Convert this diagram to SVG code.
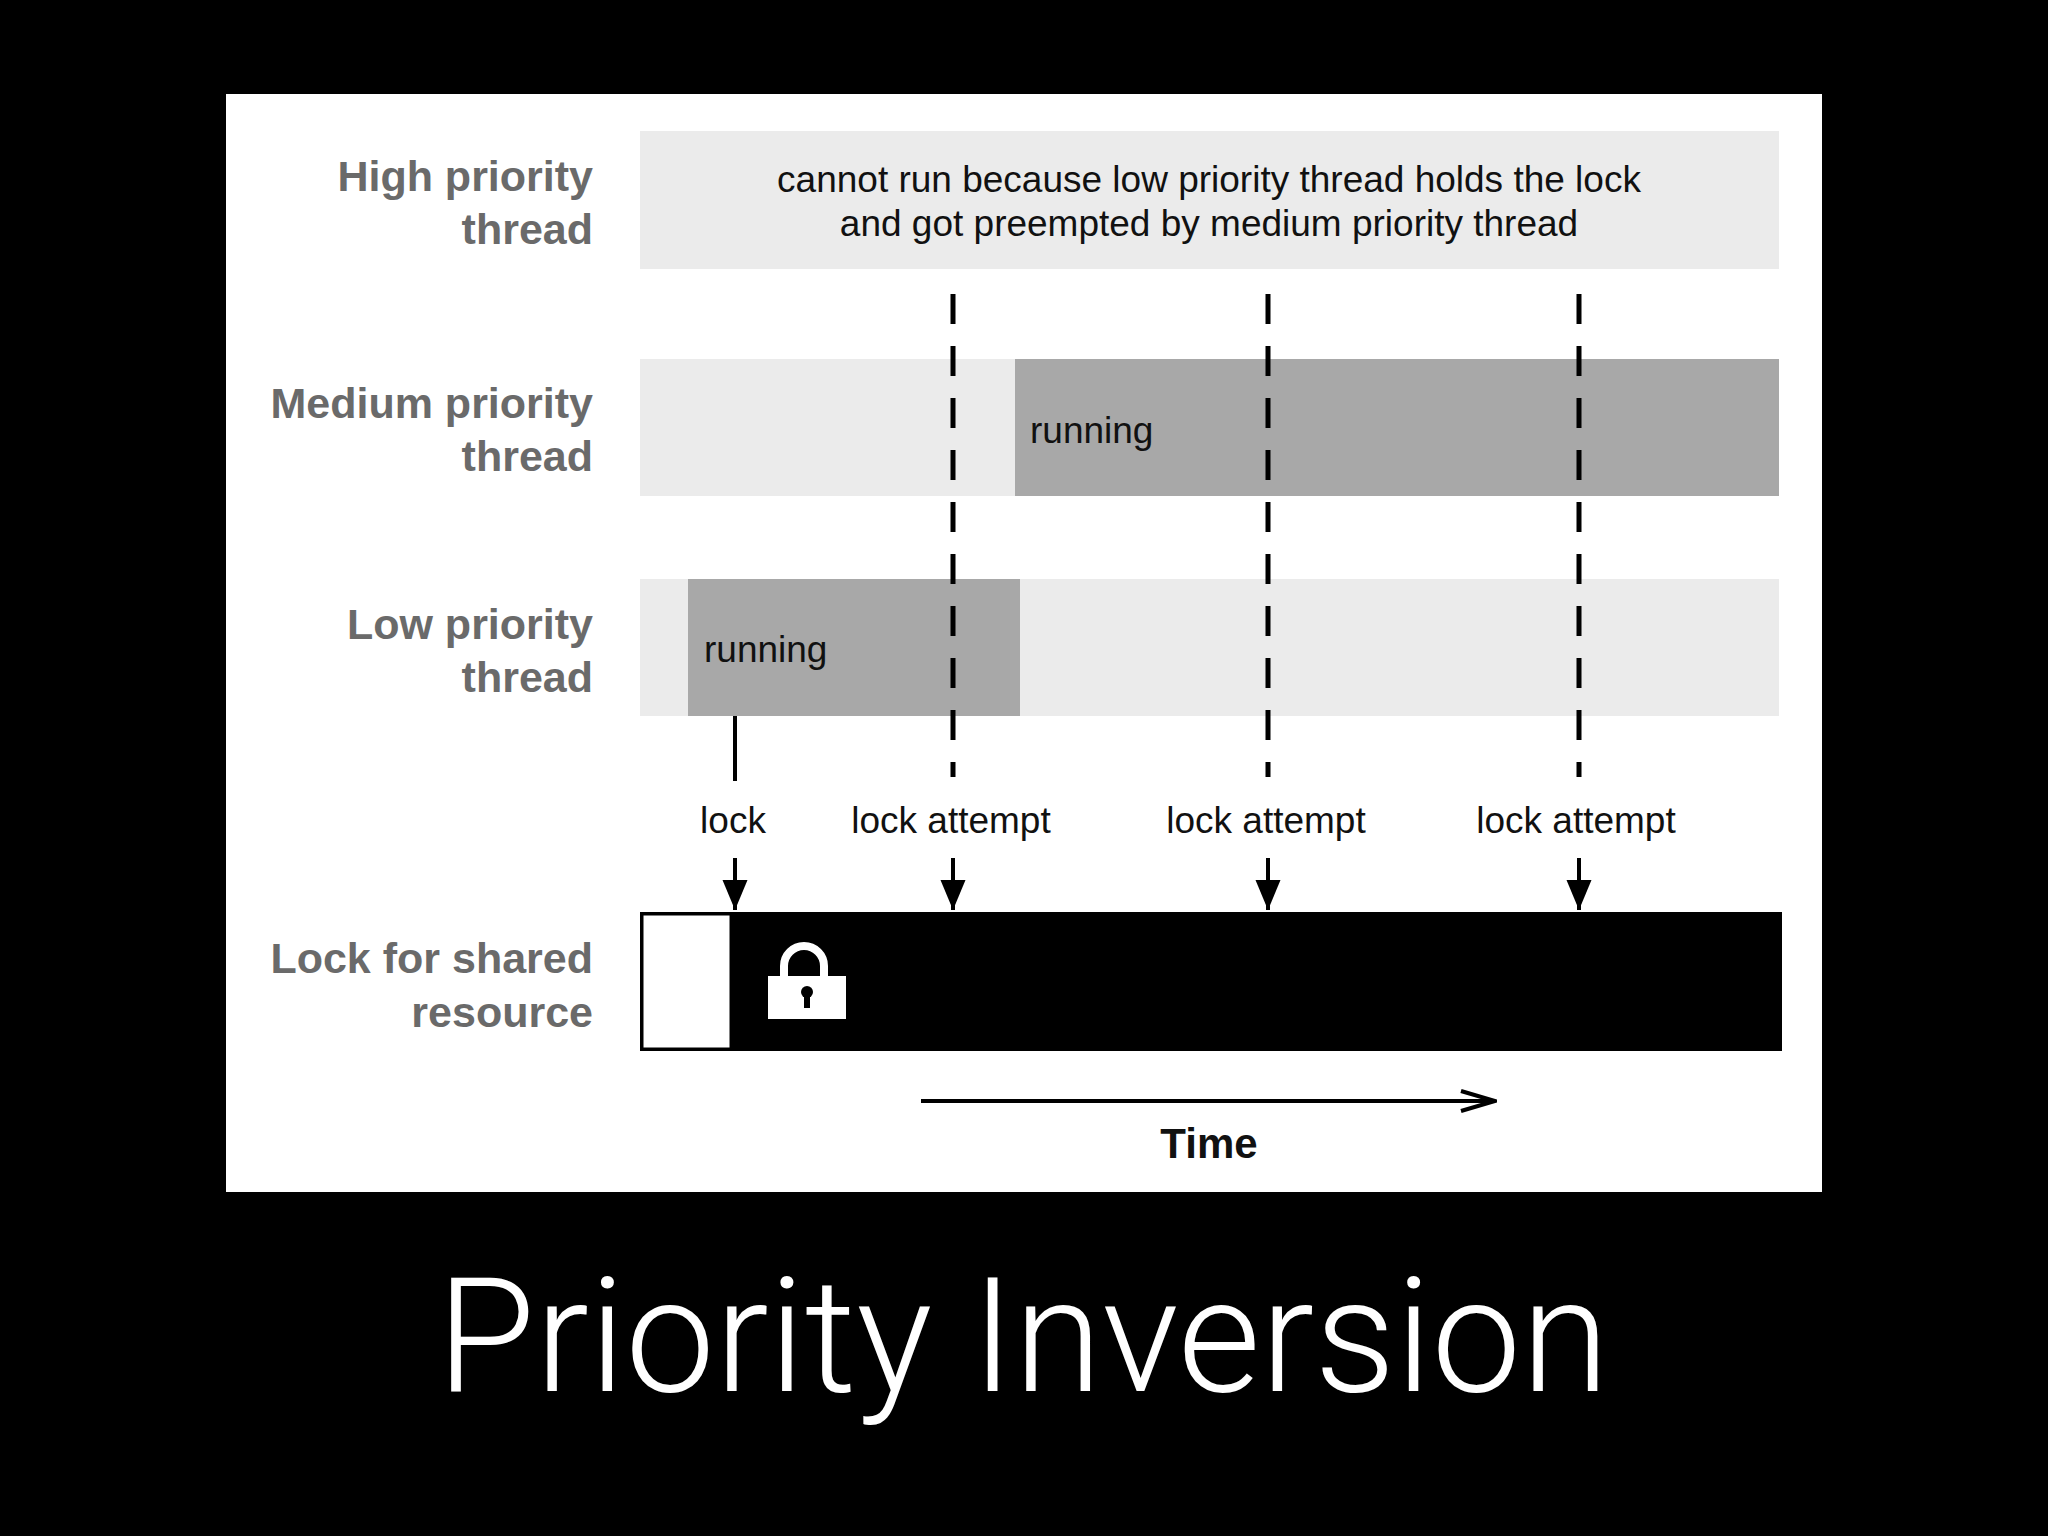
<svg xmlns="http://www.w3.org/2000/svg" width="2048" height="1536" viewBox="0 0 2048 1536">
<defs>
<style>
.lbl{font-family:"Liberation Sans",Arial,sans-serif;font-weight:bold;font-size:43px;fill:#6a6a6a;text-anchor:end}
.t{font-family:"Liberation Sans",Arial,sans-serif;font-size:37px;fill:#111}
.c{text-anchor:middle}
.dash{stroke:#000;stroke-width:5;stroke-dasharray:30,22;fill:none}
.ln{stroke:#000;stroke-width:4;fill:none}
</style>
<marker id="ah" markerWidth="30" markerHeight="36" refX="36" refY="15" orient="auto" markerUnits="userSpaceOnUse" viewBox="0 0 36 30">
<path d="M0,0 L36,15 L0,30 z" fill="#000"/>
</marker>
<marker id="ta" markerWidth="40" markerHeight="30" refX="38" refY="12" orient="auto" markerUnits="userSpaceOnUse">
<path d="M4,2 L38,12 L4,22" fill="none" stroke="#000" stroke-width="4"/>
</marker>
</defs>
<rect width="2048" height="1536" fill="#000"/>
<rect x="226" y="94" width="1596" height="1098" fill="#fff"/>
<g id="high">
<rect x="640" y="131" width="1139" height="138" fill="#ebebeb"/>
<text class="lbl" x="593" y="191">High priority</text>
<text class="lbl" x="593" y="244">thread</text>
<text class="t c" x="1209" y="192">cannot run because low priority thread holds the lock</text>
<text class="t c" x="1209" y="236">and got preempted by medium priority thread</text>
</g>
<g id="medium">
<rect x="640" y="359" width="1139" height="137" fill="#ebebeb"/>
<rect x="1015" y="359" width="764" height="137" fill="#a8a8a8"/>
<text class="lbl" x="593" y="418">Medium priority</text>
<text class="lbl" x="593" y="471">thread</text>
<text class="t" x="1030" y="443">running</text>
</g>
<g id="low">
<rect x="640" y="579" width="1139" height="137" fill="#ebebeb"/>
<rect x="688" y="579" width="332" height="137" fill="#a8a8a8"/>
<text class="lbl" x="593" y="639">Low priority</text>
<text class="lbl" x="593" y="692">thread</text>
<text class="t" x="704" y="662">running</text>
</g>
<g id="lockres">
<rect x="640" y="912" width="1142" height="139" fill="#000"/>
<rect x="642" y="914" width="89" height="135" fill="#fff" stroke="#000" stroke-width="3"/>
<text class="lbl" x="593" y="973">Lock for shared</text>
<text class="lbl" x="593" y="1027">resource</text>
<path d="M784,978 v-12 a20,20 0 0 1 40,0 v12" fill="none" stroke="#fff" stroke-width="8"/>
<rect x="768" y="976" width="78" height="43" fill="#fff"/>
<circle cx="807" cy="992" r="6" fill="#000"/>
<rect x="804" y="992" width="6" height="16" fill="#000"/>
</g>
<g id="connectors">
<line class="dash" x1="953" y1="294" x2="953" y2="777"/>
<line class="dash" x1="1268" y1="294" x2="1268" y2="777"/>
<line class="dash" x1="1579" y1="294" x2="1579" y2="777"/>
<line class="ln" x1="735" y1="716" x2="735" y2="781"/>
<line class="ln" x1="735" y1="858" x2="735" y2="910" marker-end="url(#ah)"/>
<line class="ln" x1="953" y1="858" x2="953" y2="910" marker-end="url(#ah)"/>
<line class="ln" x1="1268" y1="858" x2="1268" y2="910" marker-end="url(#ah)"/>
<line class="ln" x1="1579" y1="858" x2="1579" y2="910" marker-end="url(#ah)"/>
<line class="ln" x1="921" y1="1101" x2="1495" y2="1101" marker-end="url(#ta)"/>
</g>
<g id="labels">
<text class="t c" x="733" y="833">lock</text>
<text class="t c" x="951" y="833">lock attempt</text>
<text class="t c" x="1266" y="833">lock attempt</text>
<text class="t c" x="1576" y="833">lock attempt</text>
<text class="t c" x="1209" y="1158" style="font-weight:bold;font-size:42px">Time</text>
</g>
<text x="1023" y="1391" text-anchor="middle" font-family="Roboto,'Liberation Sans',sans-serif" font-weight="300" font-size="160" fill="#fff">Priority Inversion</text>
</svg>
